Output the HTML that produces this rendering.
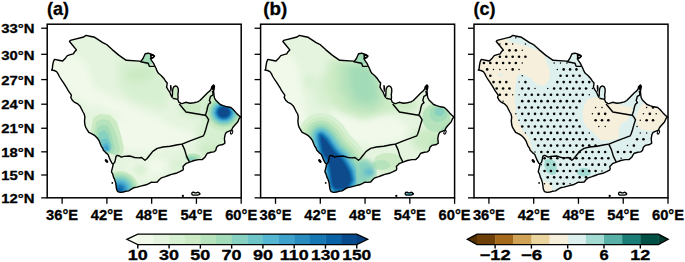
<!DOCTYPE html><html><head><meta charset="utf-8"><style>html,body{margin:0;padding:0;background:#fff;}svg{display:block;} text{font-family:"Liberation Sans",sans-serif;font-weight:bold;fill:#000;stroke:#000;stroke-width:0.3px;}</style></head><body>
<svg width="685" height="262" viewBox="0 0 685 262">
<defs>
<clipPath id="land"><path d="M54.5,59.4 L58.7,60.2 L62.6,61.0 L65.6,57.9 L67.4,55.6 L70.4,54.7 L73.3,53.9 L74.6,51.8 L76.4,49.9 L73.0,45.7 L69.5,41.5 L70.3,40.4 L83.7,37.0 L86.0,35.4 L89.8,36.2 L94.7,37.3 L100.5,41.2 L102.3,42.4 L105.8,44.2 L106.9,44.7 L112.2,49.6 L119.1,55.4 L126.3,60.3 L139.7,61.1 L140.6,61.6 L142.9,58.7 L145.2,53.7 L148.2,53.2 L152.1,54.5 L154.4,56.0 L152.8,57.5 L150.5,58.7 L151.7,60.6 L153.6,63.3 L154.5,65.4 L156.1,68.5 L156.8,70.4 L158.0,72.7 L159.1,73.8 L161.4,75.7 L164.1,78.8 L165.3,80.7 L167.2,83.0 L166.9,85.6 L166.6,87.2 L168.0,89.6 L169.7,92.1 L170.9,95.0 L172.0,97.3 L172.4,95.0 L172.5,92.1 L172.8,89.0 L173.8,86.8 L175.5,85.9 L177.2,86.6 L178.2,88.5 L178.4,91.2 L177.9,94.6 L178.1,97.5 L177.8,99.6 L178.9,102.2 L181.0,103.4 L182.0,103.7 L185.7,102.3 L190.2,103.2 L193.9,102.8 L197.6,101.9 L199.9,100.5 L201.7,98.7 L204.9,95.4 L207.6,92.7 L209.9,90.9 L211.3,89.0 L211.8,86.7 L213.6,84.9 L214.5,86.3 L214.1,88.6 L213.6,91.3 L214.1,95.9 L214.5,98.0 L215.6,99.9 L217.9,102.2 L220.2,104.5 L223.2,105.6 L227.1,106.8 L230.9,107.5 L233.2,109.5 L236.2,112.9 L238.5,115.2 L240.8,117.1 L239.3,118.3 L237.7,122.1 L234.7,125.2 L232.8,127.5 L231.6,130.1 L228.6,131.3 L226.3,132.4 L225.2,134.3 L224.4,138.6 L224.9,143.2 L223.0,144.5 L218.5,145.4 L216.6,147.3 L215.7,150.5 L213.9,151.9 L211.1,152.3 L207.5,153.2 L206.1,155.1 L204.9,157.3 L202.2,159.6 L198.5,159.6 L194.0,160.5 L190.3,161.9 L185.7,163.7 L183.0,166.5 L183.4,168.8 L182.8,170.2 L179.8,171.7 L176.0,173.3 L171.4,174.4 L168.3,175.5 L165.3,176.7 L161.5,177.8 L159.2,179.7 L157.3,182.0 L153.8,182.4 L151.6,182.1 L149.3,183.3 L146.2,184.8 L141.6,185.9 L137.1,187.1 L133.6,187.8 L131.0,189.4 L128.7,190.9 L125.6,191.3 L123.3,192.0 L120.3,192.4 L117.6,191.6 L116.5,189.0 L116.1,185.9 L115.7,182.9 L114.5,179.1 L113.7,177.7 L112.6,173.9 L111.5,172.0 L111.8,170.1 L112.6,167.1 L113.2,164.2 L111.8,162.9 L110.3,160.2 L109.1,157.2 L108.0,154.5 L105.7,152.6 L103.4,150.3 L102.6,148.0 L101.4,146.4 L100.3,143.7 L99.1,140.7 L97.2,138.0 L94.9,135.7 L91.9,133.8 L88.8,132.3 L87.3,130.0 L85.7,127.4 L84.9,124.7 L84.5,120.9 L84.9,117.1 L84.2,114.0 L83.0,112.0 L81.5,109.0 L79.9,105.9 L77.3,103.6 L74.2,102.1 L72.3,100.2 L70.8,97.5 L71.2,96.0 L71.4,95.2 L69.8,92.9 L67.9,90.2 L67.2,88.7 L65.3,85.6 L63.4,82.6 L61.5,79.9 L60.3,78.0 L59.1,76.0 L58.0,73.6 L56.5,71.6 L54.2,70.5 L51.5,70.1 L52.3,69.0 L52.6,65.9 L53.4,61.7 Z"/></clipPath>
<filter id="bl" x="-20%" y="-20%" width="140%" height="140%"><feGaussianBlur stdDeviation="4"/></filter>
<filter id="bl2" x="-20%" y="-20%" width="140%" height="140%"><feGaussianBlur stdDeviation="2"/></filter>
<filter id="bl3" x="-20%" y="-20%" width="140%" height="140%"><feGaussianBlur stdDeviation="3"/></filter>
<filter id="bl1" x="-20%" y="-20%" width="140%" height="140%"><feGaussianBlur stdDeviation="0.7"/></filter>
</defs>
<g transform="translate(0.00,0)">
<g clip-path="url(#land)"><rect x="40" y="30" width="210" height="170" fill="#e4f4de"/><g filter="url(#bl3)"><path d="M45,60 L70,52 L85,62 L92,80 L98,100 L95,110 L80,100 L60,85 Z" fill="#f1f9ea"/><path d="M75,78 L100,90 L130,105 L160,118 L175,128 L165,134 L140,125 L110,112 L85,98 L72,88 Z" fill="#f1f9ea"/><path d="M115,118 L150,122 L180,128 L200,135 L185,145 L160,150 L140,152 L120,150 L112,135 Z" fill="#f1f9ea"/><path d="M128,162 L160,158 L172,165 L160,175 L140,180 L128,176 Z" fill="#f1f9ea"/><path d="M118,60 L150,60 L165,80 L168,100 L150,106 L130,100 L118,85 Z" fill="#d8f0d2"/><ellipse cx="138" cy="75" rx="13" ry="8" fill="#ccebc5"/><ellipse cx="160" cy="95" rx="8" ry="14" fill="#d8f0d2"/><ellipse cx="150" cy="72" rx="6" ry="6" fill="#ccebc5"/><ellipse cx="196" cy="108" rx="16" ry="8" fill="#ccebc5"/><ellipse cx="212" cy="135" rx="16" ry="16" fill="#d8f0d2"/><ellipse cx="212" cy="150" rx="14" ry="6" fill="#ccebc5"/><ellipse cx="222" cy="128" rx="8" ry="8" fill="#ccebc5"/><ellipse cx="178" cy="165" rx="9" ry="5" fill="#d8f0d2"/><ellipse cx="140" cy="170" rx="8" ry="6" fill="#d8f0d2"/></g><g filter="url(#bl1)"><ellipse cx="148" cy="59" rx="6" ry="6" fill="#a2dbb7"/><ellipse cx="175" cy="92" rx="3" ry="6" fill="#ccebc5"/><ellipse cx="193" cy="157.5" rx="8" ry="4" fill="#b7e3bc"/><ellipse cx="192" cy="158.5" rx="5.5" ry="2.8" fill="#a2dbb7"/><ellipse cx="191" cy="159" rx="3" ry="1.8" fill="#88d1c0"/><path d="M93.0,118.0 L100.0,114.0 L110.0,115.0 L117.0,122.0 L121.0,135.0 L124.0,148.0 L122.0,156.0 L95.0,152.0 L91.0,130.0 Z" fill="#ccebc5"/><path d="M96.0,122.0 L102.0,119.0 L109.0,120.0 L114.0,128.0 L118.0,140.0 L120.0,150.0 L116.0,155.0 L97.0,150.0 L94.0,135.0 Z" fill="#b7e3bc"/><path d="M97.0,128.0 L103.0,124.5 L108.0,126.0 L111.0,133.0 L113.0,141.0 L115.0,148.0 L113.0,153.0 L100.0,153.0 L96.0,140.0 Z" fill="#a2dbb7"/><path d="M99.0,133.0 L104.0,130.0 L108.0,134.0 L110.0,140.0 L112.0,146.0 L110.0,152.0 L101.0,152.0 L98.0,140.0 Z" fill="#88d1c0"/><path d="M101.0,140.0 L106.0,138.0 L110.0,143.0 L111.0,150.0 L103.0,152.0 Z" fill="#6ec5c8"/><path d="M103.0,144.0 L107.0,143.0 L109.5,147.0 L109.0,151.0 L104.0,151.0 Z" fill="#54b6d1"/><path d="M104.5,146.0 L107.0,145.5 L108.5,148.5 L107.5,150.5 L105.0,150.0 Z" fill="#3fa2ca"/><ellipse cx="119.5" cy="189.5" rx="19.5" ry="18.5" fill="#ccebc5"/><ellipse cx="119.5" cy="189.5" rx="17.55" ry="16.65" fill="#b7e3bc"/><ellipse cx="119.5" cy="189.5" rx="15.6" ry="14.8" fill="#a2dbb7"/><ellipse cx="119.5" cy="189.5" rx="13.65" ry="12.95" fill="#88d1c0"/><ellipse cx="119.5" cy="189.5" rx="11.7" ry="11.1" fill="#6ec5c8"/><ellipse cx="119.5" cy="189.5" rx="9.75" ry="9.25" fill="#54b6d1"/><ellipse cx="119.5" cy="189.5" rx="7.8" ry="7.4" fill="#3fa2ca"/><ellipse cx="119.5" cy="189.5" rx="5.85" ry="5.55" fill="#2a8bbe"/><ellipse cx="119.5" cy="189.5" rx="3.9" ry="3.7" fill="#1677b3"/><ellipse cx="119.5" cy="189.5" rx="1.95" ry="1.85" fill="#0862a5"/><ellipse cx="223.8" cy="112.3" rx="24" ry="24" fill="#d8f0d2"/><ellipse cx="223.8" cy="112.3" rx="19.5" ry="19" fill="#ccebc5"/><ellipse cx="223.8" cy="112.3" rx="16" ry="15" fill="#b7e3bc"/><ellipse cx="223.8" cy="112.3" rx="14.5" ry="13.5" fill="#a2dbb7"/><ellipse cx="223.8" cy="112.3" rx="13" ry="12" fill="#88d1c0"/><ellipse cx="223.8" cy="112.3" rx="11.5" ry="10.5" fill="#6ec5c8"/><ellipse cx="223.8" cy="112.3" rx="10.3" ry="9.3" fill="#54b6d1"/><ellipse cx="223.8" cy="112.3" rx="9.2" ry="8.3" fill="#3fa2ca"/><ellipse cx="223.8" cy="112.3" rx="8.2" ry="7.4" fill="#2a8bbe"/><ellipse cx="223.8" cy="112.3" rx="7.3" ry="6.6" fill="#1677b3"/><ellipse cx="223.8" cy="112.3" rx="6.5" ry="5.8" fill="#0862a5"/><ellipse cx="223.8" cy="112.3" rx="5.5" ry="4.8" fill="#084b8d"/></g></g>
<path d="M54.5,59.4 L58.7,60.2 L62.6,61.0 L65.6,57.9 L67.4,55.6 L70.4,54.7 L73.3,53.9 L74.6,51.8 L76.4,49.9 L73.0,45.7 L69.5,41.5 L70.3,40.4 L83.7,37.0 L86.0,35.4 L89.8,36.2 L94.7,37.3 L100.5,41.2 L102.3,42.4 L105.8,44.2 L106.9,44.7 L112.2,49.6 L119.1,55.4 L126.3,60.3 L139.7,61.1 L140.6,61.6 L142.9,58.7 L145.2,53.7 L148.2,53.2 L152.1,54.5 L154.4,56.0 L152.8,57.5 L150.5,58.7 L151.7,60.6 L153.6,63.3 L154.5,65.4 L156.1,68.5 L156.8,70.4 L158.0,72.7 L159.1,73.8 L161.4,75.7 L164.1,78.8 L165.3,80.7 L167.2,83.0 L166.9,85.6 L166.6,87.2 L168.0,89.6 L169.7,92.1 L170.9,95.0 L172.0,97.3 L172.4,95.0 L172.5,92.1 L172.8,89.0 L173.8,86.8 L175.5,85.9 L177.2,86.6 L178.2,88.5 L178.4,91.2 L177.9,94.6 L178.1,97.5 L177.8,99.6 L178.9,102.2 L181.0,103.4 L182.0,103.7 L185.7,102.3 L190.2,103.2 L193.9,102.8 L197.6,101.9 L199.9,100.5 L201.7,98.7 L204.9,95.4 L207.6,92.7 L209.9,90.9 L211.3,89.0 L211.8,86.7 L213.6,84.9 L214.5,86.3 L214.1,88.6 L213.6,91.3 L214.1,95.9 L214.5,98.0 L215.6,99.9 L217.9,102.2 L220.2,104.5 L223.2,105.6 L227.1,106.8 L230.9,107.5 L233.2,109.5 L236.2,112.9 L238.5,115.2 L240.8,117.1 L239.3,118.3 L237.7,122.1 L234.7,125.2 L232.8,127.5 L231.6,130.1 L228.6,131.3 L226.3,132.4 L225.2,134.3 L224.4,138.6 L224.9,143.2 L223.0,144.5 L218.5,145.4 L216.6,147.3 L215.7,150.5 L213.9,151.9 L211.1,152.3 L207.5,153.2 L206.1,155.1 L204.9,157.3 L202.2,159.6 L198.5,159.6 L194.0,160.5 L190.3,161.9 L185.7,163.7 L183.0,166.5 L183.4,168.8 L182.8,170.2 L179.8,171.7 L176.0,173.3 L171.4,174.4 L168.3,175.5 L165.3,176.7 L161.5,177.8 L159.2,179.7 L157.3,182.0 L153.8,182.4 L151.6,182.1 L149.3,183.3 L146.2,184.8 L141.6,185.9 L137.1,187.1 L133.6,187.8 L131.0,189.4 L128.7,190.9 L125.6,191.3 L123.3,192.0 L120.3,192.4 L117.6,191.6 L116.5,189.0 L116.1,185.9 L115.7,182.9 L114.5,179.1 L113.7,177.7 L112.6,173.9 L111.5,172.0 L111.8,170.1 L112.6,167.1 L113.2,164.2 L111.8,162.9 L110.3,160.2 L109.1,157.2 L108.0,154.5 L105.7,152.6 L103.4,150.3 L102.6,148.0 L101.4,146.4 L100.3,143.7 L99.1,140.7 L97.2,138.0 L94.9,135.7 L91.9,133.8 L88.8,132.3 L87.3,130.0 L85.7,127.4 L84.9,124.7 L84.5,120.9 L84.9,117.1 L84.2,114.0 L83.0,112.0 L81.5,109.0 L79.9,105.9 L77.3,103.6 L74.2,102.1 L72.3,100.2 L70.8,97.5 L71.2,96.0 L71.4,95.2 L69.8,92.9 L67.9,90.2 L67.2,88.7 L65.3,85.6 L63.4,82.6 L61.5,79.9 L60.3,78.0 L59.1,76.0 L58.0,73.6 L56.5,71.6 L54.2,70.5 L51.5,70.1 L52.3,69.0 L52.6,65.9 L53.4,61.7 Z" fill="none" stroke="#000" stroke-width="1.4" stroke-linejoin="round"/>
<path d="M140.6,61.7 L148.2,63.3 L149.3,66.3 L154.3,66.4" fill="none" stroke="#000" stroke-width="1.4" stroke-linejoin="round"/>
<path d="M179.3,104.0 L186.0,112.0 L205.0,115.2" fill="none" stroke="#000" stroke-width="1.4" stroke-linejoin="round"/>
<path d="M212.3,90.8 L213.0,93.0 L212.9,95.2 L210.5,96.4 L209.4,100.5 L210.6,102.6 L208.6,104.3 L207.5,107.5 L206.8,111.0 L205.9,113.8 L205.0,115.4" fill="none" stroke="#000" stroke-width="1.4" stroke-linejoin="round"/>
<path d="M205.0,115.4 L206.5,116.2 L208.7,119.8 L207.2,124.4 L205.7,129.7 L204.3,134.0 L203.4,135.8 L190.0,140.8 L182.0,144.1" fill="none" stroke="#000" stroke-width="1.4" stroke-linejoin="round"/>
<path d="M182.0,144.1 L184.6,149.6 L186.6,156.4 L189.4,161.9" fill="none" stroke="#000" stroke-width="1.4" stroke-linejoin="round"/>
<path d="M182.0,144.1 L177.6,144.8 L170.3,146.2 L163.0,147.0 L157.2,148.4 L152.8,151.4 L149.9,155.0 L146.9,158.7 L145.0,160.2 L143.1,158.7 L141.6,157.5 L138.5,157.9 L134.7,157.5 L132.4,156.8 L129.4,156.0 L124.0,156.4 L121.3,157.2 L119.4,156.0 L117.5,155.3 L116.0,156.4 L115.6,158.7 L114.8,162.1 L113.2,164.2" fill="none" stroke="#000" stroke-width="1.4" stroke-linejoin="round"/>
<path d="M172.6,98.2 L177.8,99.4" fill="none" stroke="#000" stroke-width="1.4" stroke-linejoin="round"/>
<path d="M169.9,85.0 L171.3,85.3 L171.8,88.0 L171.5,91.5 L170.6,92.0 L170.0,89.0 Z" fill="#000"/>
<path d="M211.6,86.8 L213.4,84.5 L214.9,86.2 L214.4,88.8 L213.4,90.6 L212.0,89.6 Z" fill="#000"/>
<path d="M150.9,54.8 L153.0,55.1 L154.2,56.2 L153.2,57.5 L151.6,58.1 L150.9,57.0 Z" fill="#fff" stroke="#000" stroke-width="1.7"/>
<ellipse cx="106.5" cy="161" rx="2.2" ry="1.3" transform="rotate(45 106.5 161)" fill="#000"/>
<circle cx="112.3" cy="182.9" r="0.9" fill="#000"/>
<circle cx="182.9" cy="195.9" r="1.15" fill="#000"/>
<ellipse cx="231.6" cy="132.3" rx="1.0" ry="1.9" transform="rotate(25 231.6 132.3)" fill="#fff" stroke="#000" stroke-width="1.1"/>
<path d="M191.7,193.5 L192.3,192.4 L193.6,192.1 L195.0,192.9 L196.3,192.9 L197.6,192.2 L199.0,192.6 L199.8,193.6 L199.2,194.7 L197.5,195.1 L195.5,195.2 L193.1,195.1 L192.0,194.6 Z" fill="#e4f4de" stroke="#000" stroke-width="1.25" stroke-linejoin="round"/>
<circle cx="199.6" cy="193.9" r="0.9" fill="#000"/>
</g>
<g transform="translate(213.40,0)">
<g clip-path="url(#land)"><rect x="40" y="30" width="210" height="170" fill="#e4f4de"/><g filter="url(#bl3)"><path d="M45,55 L70,50 L82,60 L88,80 L92,110 L96,125 L88,128 L70,110 L55,85 Z" fill="#f1f9ea"/><path d="M118,110 L140,108 L175,115 L195,125 L190,140 L160,146 L140,142 L125,132 Z" fill="#f1f9ea"/><ellipse cx="95" cy="82" rx="6" ry="7" fill="#d8f0d2"/><ellipse cx="115" cy="90" rx="14" ry="18" fill="#d8f0d2"/><path d="M115,60 L150,60 L165,72 L175,95 L180,112 L150,120 L125,112 L112,90 Z" fill="#ccebc5"/><path d="M125,63 L152,62 L165,78 L172,100 L160,112 L138,108 L125,90 Z" fill="#b7e3bc"/><path d="M136,66 L154,66 L162,80 L164,98 L155,104 L142,100 L136,85 Z" fill="#a2dbb7"/><ellipse cx="190" cy="105" rx="14" ry="7" fill="#ccebc5"/><ellipse cx="222" cy="115" rx="12" ry="10" fill="#b7e3bc"/><ellipse cx="215" cy="140" rx="16" ry="12" fill="#ccebc5"/><ellipse cx="225" cy="145" rx="8" ry="8" fill="#b7e3bc"/><ellipse cx="175" cy="165" rx="12" ry="7" fill="#ccebc5"/></g><g filter="url(#bl1)"><ellipse cx="148" cy="59" rx="6" ry="6" fill="#a2dbb7"/><ellipse cx="223" cy="118" rx="14" ry="14" fill="#b7e3bc"/><ellipse cx="225" cy="114" rx="9" ry="8" fill="#a2dbb7"/><ellipse cx="226" cy="112" rx="5" ry="4" fill="#88d1c0"/><ellipse cx="231" cy="131" rx="3" ry="4" fill="#a2dbb7"/><ellipse cx="175" cy="160" rx="14" ry="7" fill="#ccebc5"/><ellipse cx="168" cy="165" rx="9" ry="5" fill="#b7e3bc"/><path d="M107.6,136.0 L109.8,137.8 L112.2,140.0 L116.0,145.5 L120.0,151.2 L123.5,154.8 L127.6,158.8 L131.6,165.0 L135.6,172.0 L137.3,180.0 L134.6,185.5 L131.6,188.0 L122.6,188.5 L119.6,185.0 L118.6,180.0 L117.6,172.0 L116.6,165.0 L114.6,159.5 L111.5,155.0 L109.5,150.9 L108.5,145.0 L107.6,139.5 Z" fill="#d8f0d2" stroke="#d8f0d2" stroke-width="46.00" stroke-linejoin="round"/><path d="M107.6,136.0 L109.8,137.8 L112.2,140.0 L116.0,145.5 L120.0,151.2 L123.5,154.8 L127.6,158.8 L131.6,165.0 L135.6,172.0 L137.3,180.0 L134.6,185.5 L131.6,188.0 L122.6,188.5 L119.6,185.0 L118.6,180.0 L117.6,172.0 L116.6,165.0 L114.6,159.5 L111.5,155.0 L109.5,150.9 L108.5,145.0 L107.6,139.5 Z" fill="#ccebc5" stroke="#ccebc5" stroke-width="38.00" stroke-linejoin="round"/><path d="M107.6,136.0 L109.8,137.8 L112.2,140.0 L116.0,145.5 L120.0,151.2 L123.5,154.8 L127.6,158.8 L131.6,165.0 L135.6,172.0 L137.3,180.0 L134.6,185.5 L131.6,188.0 L122.6,188.5 L119.6,185.0 L118.6,180.0 L117.6,172.0 L116.6,165.0 L114.6,159.5 L111.5,155.0 L109.5,150.9 L108.5,145.0 L107.6,139.5 Z" fill="#b7e3bc" stroke="#b7e3bc" stroke-width="31.00" stroke-linejoin="round"/><path d="M107.6,136.0 L109.8,137.8 L112.2,140.0 L116.0,145.5 L120.0,151.2 L123.5,154.8 L127.6,158.8 L131.6,165.0 L135.6,172.0 L137.3,180.0 L134.6,185.5 L131.6,188.0 L122.6,188.5 L119.6,185.0 L118.6,180.0 L117.6,172.0 L116.6,165.0 L114.6,159.5 L111.5,155.0 L109.5,150.9 L108.5,145.0 L107.6,139.5 Z" fill="#a2dbb7" stroke="#a2dbb7" stroke-width="25.00" stroke-linejoin="round"/><path d="M107.6,136.0 L109.8,137.8 L112.2,140.0 L116.0,145.5 L120.0,151.2 L123.5,154.8 L127.6,158.8 L131.6,165.0 L135.6,172.0 L137.3,180.0 L134.6,185.5 L131.6,188.0 L122.6,188.5 L119.6,185.0 L118.6,180.0 L117.6,172.0 L116.6,165.0 L114.6,159.5 L111.5,155.0 L109.5,150.9 L108.5,145.0 L107.6,139.5 Z" fill="#88d1c0" stroke="#88d1c0" stroke-width="20.00" stroke-linejoin="round"/><path d="M107.6,136.0 L109.8,137.8 L112.2,140.0 L116.0,145.5 L120.0,151.2 L123.5,154.8 L127.6,158.8 L131.6,165.0 L135.6,172.0 L137.3,180.0 L134.6,185.5 L131.6,188.0 L122.6,188.5 L119.6,185.0 L118.6,180.0 L117.6,172.0 L116.6,165.0 L114.6,159.5 L111.5,155.0 L109.5,150.9 L108.5,145.0 L107.6,139.5 Z" fill="#6ec5c8" stroke="#6ec5c8" stroke-width="16.00" stroke-linejoin="round"/><path d="M107.6,136.0 L109.8,137.8 L112.2,140.0 L116.0,145.5 L120.0,151.2 L123.5,154.8 L127.6,158.8 L131.6,165.0 L135.6,172.0 L137.3,180.0 L134.6,185.5 L131.6,188.0 L122.6,188.5 L119.6,185.0 L118.6,180.0 L117.6,172.0 L116.6,165.0 L114.6,159.5 L111.5,155.0 L109.5,150.9 L108.5,145.0 L107.6,139.5 Z" fill="#54b6d1" stroke="#54b6d1" stroke-width="12.40" stroke-linejoin="round"/><path d="M107.6,136.0 L109.8,137.8 L112.2,140.0 L116.0,145.5 L120.0,151.2 L123.5,154.8 L127.6,158.8 L131.6,165.0 L135.6,172.0 L137.3,180.0 L134.6,185.5 L131.6,188.0 L122.6,188.5 L119.6,185.0 L118.6,180.0 L117.6,172.0 L116.6,165.0 L114.6,159.5 L111.5,155.0 L109.5,150.9 L108.5,145.0 L107.6,139.5 Z" fill="#3fa2ca" stroke="#3fa2ca" stroke-width="9.20" stroke-linejoin="round"/><path d="M107.6,136.0 L109.8,137.8 L112.2,140.0 L116.0,145.5 L120.0,151.2 L123.5,154.8 L127.6,158.8 L131.6,165.0 L135.6,172.0 L137.3,180.0 L134.6,185.5 L131.6,188.0 L122.6,188.5 L119.6,185.0 L118.6,180.0 L117.6,172.0 L116.6,165.0 L114.6,159.5 L111.5,155.0 L109.5,150.9 L108.5,145.0 L107.6,139.5 Z" fill="#2a8bbe" stroke="#2a8bbe" stroke-width="7.00" stroke-linejoin="round"/><path d="M107.6,136.0 L109.8,137.8 L112.2,140.0 L116.0,145.5 L120.0,151.2 L123.5,154.8 L127.6,158.8 L131.6,165.0 L135.6,172.0 L137.3,180.0 L134.6,185.5 L131.6,188.0 L122.6,188.5 L119.6,185.0 L118.6,180.0 L117.6,172.0 L116.6,165.0 L114.6,159.5 L111.5,155.0 L109.5,150.9 L108.5,145.0 L107.6,139.5 Z" fill="#1677b3" stroke="#1677b3" stroke-width="4.80" stroke-linejoin="round"/><path d="M107.6,136.0 L109.8,137.8 L112.2,140.0 L116.0,145.5 L120.0,151.2 L123.5,154.8 L127.6,158.8 L131.6,165.0 L135.6,172.0 L137.3,180.0 L134.6,185.5 L131.6,188.0 L122.6,188.5 L119.6,185.0 L118.6,180.0 L117.6,172.0 L116.6,165.0 L114.6,159.5 L111.5,155.0 L109.5,150.9 L108.5,145.0 L107.6,139.5 Z" fill="#0862a5" stroke="#0862a5" stroke-width="2.40" stroke-linejoin="round"/><path d="M107.6,136.0 L109.8,137.8 L112.2,140.0 L116.0,145.5 L120.0,151.2 L123.5,154.8 L127.6,158.8 L131.6,165.0 L135.6,172.0 L137.3,180.0 L134.6,185.5 L131.6,188.0 L122.6,188.5 L119.6,185.0 L118.6,180.0 L117.6,172.0 L116.6,165.0 L114.6,159.5 L111.5,155.0 L109.5,150.9 L108.5,145.0 L107.6,139.5 Z" fill="#084b8d"/></g><g filter="url(#bl2)"><path d="M146.0,163.5 L152.0,162.5 L158.0,166.0 L160.0,174.0 L152.0,180.0 L146.0,181.5 Z" fill="#a2dbb7" stroke="#a2dbb7" stroke-width="7.20" stroke-linejoin="round"/><path d="M146.0,163.5 L152.0,162.5 L158.0,166.0 L160.0,174.0 L152.0,180.0 L146.0,181.5 Z" fill="#88d1c0" stroke="#88d1c0" stroke-width="3.60" stroke-linejoin="round"/><path d="M146.0,163.5 L152.0,162.5 L158.0,166.0 L160.0,174.0 L152.0,180.0 L146.0,181.5 Z" fill="#88d1c0"/><ellipse cx="155.6" cy="172" rx="5" ry="3" fill="#54b6d1"/></g></g>
<path d="M54.5,59.4 L58.7,60.2 L62.6,61.0 L65.6,57.9 L67.4,55.6 L70.4,54.7 L73.3,53.9 L74.6,51.8 L76.4,49.9 L73.0,45.7 L69.5,41.5 L70.3,40.4 L83.7,37.0 L86.0,35.4 L89.8,36.2 L94.7,37.3 L100.5,41.2 L102.3,42.4 L105.8,44.2 L106.9,44.7 L112.2,49.6 L119.1,55.4 L126.3,60.3 L139.7,61.1 L140.6,61.6 L142.9,58.7 L145.2,53.7 L148.2,53.2 L152.1,54.5 L154.4,56.0 L152.8,57.5 L150.5,58.7 L151.7,60.6 L153.6,63.3 L154.5,65.4 L156.1,68.5 L156.8,70.4 L158.0,72.7 L159.1,73.8 L161.4,75.7 L164.1,78.8 L165.3,80.7 L167.2,83.0 L166.9,85.6 L166.6,87.2 L168.0,89.6 L169.7,92.1 L170.9,95.0 L172.0,97.3 L172.4,95.0 L172.5,92.1 L172.8,89.0 L173.8,86.8 L175.5,85.9 L177.2,86.6 L178.2,88.5 L178.4,91.2 L177.9,94.6 L178.1,97.5 L177.8,99.6 L178.9,102.2 L181.0,103.4 L182.0,103.7 L185.7,102.3 L190.2,103.2 L193.9,102.8 L197.6,101.9 L199.9,100.5 L201.7,98.7 L204.9,95.4 L207.6,92.7 L209.9,90.9 L211.3,89.0 L211.8,86.7 L213.6,84.9 L214.5,86.3 L214.1,88.6 L213.6,91.3 L214.1,95.9 L214.5,98.0 L215.6,99.9 L217.9,102.2 L220.2,104.5 L223.2,105.6 L227.1,106.8 L230.9,107.5 L233.2,109.5 L236.2,112.9 L238.5,115.2 L240.8,117.1 L239.3,118.3 L237.7,122.1 L234.7,125.2 L232.8,127.5 L231.6,130.1 L228.6,131.3 L226.3,132.4 L225.2,134.3 L224.4,138.6 L224.9,143.2 L223.0,144.5 L218.5,145.4 L216.6,147.3 L215.7,150.5 L213.9,151.9 L211.1,152.3 L207.5,153.2 L206.1,155.1 L204.9,157.3 L202.2,159.6 L198.5,159.6 L194.0,160.5 L190.3,161.9 L185.7,163.7 L183.0,166.5 L183.4,168.8 L182.8,170.2 L179.8,171.7 L176.0,173.3 L171.4,174.4 L168.3,175.5 L165.3,176.7 L161.5,177.8 L159.2,179.7 L157.3,182.0 L153.8,182.4 L151.6,182.1 L149.3,183.3 L146.2,184.8 L141.6,185.9 L137.1,187.1 L133.6,187.8 L131.0,189.4 L128.7,190.9 L125.6,191.3 L123.3,192.0 L120.3,192.4 L117.6,191.6 L116.5,189.0 L116.1,185.9 L115.7,182.9 L114.5,179.1 L113.7,177.7 L112.6,173.9 L111.5,172.0 L111.8,170.1 L112.6,167.1 L113.2,164.2 L111.8,162.9 L110.3,160.2 L109.1,157.2 L108.0,154.5 L105.7,152.6 L103.4,150.3 L102.6,148.0 L101.4,146.4 L100.3,143.7 L99.1,140.7 L97.2,138.0 L94.9,135.7 L91.9,133.8 L88.8,132.3 L87.3,130.0 L85.7,127.4 L84.9,124.7 L84.5,120.9 L84.9,117.1 L84.2,114.0 L83.0,112.0 L81.5,109.0 L79.9,105.9 L77.3,103.6 L74.2,102.1 L72.3,100.2 L70.8,97.5 L71.2,96.0 L71.4,95.2 L69.8,92.9 L67.9,90.2 L67.2,88.7 L65.3,85.6 L63.4,82.6 L61.5,79.9 L60.3,78.0 L59.1,76.0 L58.0,73.6 L56.5,71.6 L54.2,70.5 L51.5,70.1 L52.3,69.0 L52.6,65.9 L53.4,61.7 Z" fill="none" stroke="#000" stroke-width="1.4" stroke-linejoin="round"/>
<path d="M140.6,61.7 L148.2,63.3 L149.3,66.3 L154.3,66.4" fill="none" stroke="#000" stroke-width="1.4" stroke-linejoin="round"/>
<path d="M179.3,104.0 L186.0,112.0 L205.0,115.2" fill="none" stroke="#000" stroke-width="1.4" stroke-linejoin="round"/>
<path d="M212.3,90.8 L213.0,93.0 L212.9,95.2 L210.5,96.4 L209.4,100.5 L210.6,102.6 L208.6,104.3 L207.5,107.5 L206.8,111.0 L205.9,113.8 L205.0,115.4" fill="none" stroke="#000" stroke-width="1.4" stroke-linejoin="round"/>
<path d="M205.0,115.4 L206.5,116.2 L208.7,119.8 L207.2,124.4 L205.7,129.7 L204.3,134.0 L203.4,135.8 L190.0,140.8 L182.0,144.1" fill="none" stroke="#000" stroke-width="1.4" stroke-linejoin="round"/>
<path d="M182.0,144.1 L184.6,149.6 L186.6,156.4 L189.4,161.9" fill="none" stroke="#000" stroke-width="1.4" stroke-linejoin="round"/>
<path d="M182.0,144.1 L177.6,144.8 L170.3,146.2 L163.0,147.0 L157.2,148.4 L152.8,151.4 L149.9,155.0 L146.9,158.7 L145.0,160.2 L143.1,158.7 L141.6,157.5 L138.5,157.9 L134.7,157.5 L132.4,156.8 L129.4,156.0 L124.0,156.4 L121.3,157.2 L119.4,156.0 L117.5,155.3 L116.0,156.4 L115.6,158.7 L114.8,162.1 L113.2,164.2" fill="none" stroke="#000" stroke-width="1.4" stroke-linejoin="round"/>
<path d="M172.6,98.2 L177.8,99.4" fill="none" stroke="#000" stroke-width="1.4" stroke-linejoin="round"/>
<path d="M169.9,85.0 L171.3,85.3 L171.8,88.0 L171.5,91.5 L170.6,92.0 L170.0,89.0 Z" fill="#000"/>
<path d="M211.6,86.8 L213.4,84.5 L214.9,86.2 L214.4,88.8 L213.4,90.6 L212.0,89.6 Z" fill="#000"/>
<path d="M150.9,54.8 L153.0,55.1 L154.2,56.2 L153.2,57.5 L151.6,58.1 L150.9,57.0 Z" fill="#fff" stroke="#000" stroke-width="1.7"/>
<ellipse cx="106.5" cy="161" rx="2.2" ry="1.3" transform="rotate(45 106.5 161)" fill="#000"/>
<circle cx="112.3" cy="182.9" r="0.9" fill="#000"/>
<circle cx="182.9" cy="195.9" r="1.15" fill="#000"/>
<ellipse cx="231.6" cy="132.3" rx="1.0" ry="1.9" transform="rotate(25 231.6 132.3)" fill="#fff" stroke="#000" stroke-width="1.1"/>
<path d="M191.7,193.5 L192.3,192.4 L193.6,192.1 L195.0,192.9 L196.3,192.9 L197.6,192.2 L199.0,192.6 L199.8,193.6 L199.2,194.7 L197.5,195.1 L195.5,195.2 L193.1,195.1 L192.0,194.6 Z" fill="#54b6d1" stroke="#000" stroke-width="1.25" stroke-linejoin="round"/>
<circle cx="199.6" cy="193.9" r="0.9" fill="#000"/>
</g>
<g transform="translate(426.80,0)">
<g clip-path="url(#land)"><rect x="40" y="30" width="210" height="170" fill="#def0ed"/><path d="M40.0,30.0 L80.0,30.0 L82.2,41.5 L95.0,45.0 L109.7,49.5 L115.0,53.0 L118.2,57.0 L120.2,63.0 L122.5,69.0 L123.4,74.7 L122.2,80.0 L119.5,83.5 L117.1,85.2 L113.0,85.5 L109.7,84.1 L106.0,80.5 L103.4,77.8 L97.1,74.7 L92.9,73.6 L90.8,75.7 L89.2,82.0 L88.2,88.0 L88.0,100.0 L89.0,110.0 L90.5,119.7 L95.5,129.7 L102.9,139.6 L105.5,150.0 L107.0,155.0 L40.0,160.0 Z" fill="#f5efdc"/><path d="M155.8,111.9 L158.0,104.0 L161.2,98.9 L169.9,96.7 L178.0,100.0 L190.0,104.0 L204.7,107.6 L205.8,109.7 L203.0,115.0 L200.4,120.6 L195.0,123.0 L192.5,128.0 L191.7,138.0 L183.0,140.5 L174.2,140.2 L165.6,131.5 L160.0,127.0 L156.9,122.8 Z" fill="#f5efdc"/><path d="M216.0,103.5 L222.0,103.0 L237.2,104.0 L242.0,110.0 L242.0,125.0 L237.2,129.0 L225.0,131.0 L215.0,130.0 L210.0,125.0 L209.5,116.0 L211.5,110.0 Z" fill="#f5efdc"/><path d="M113.0,181.0 L120.0,182.0 L125.0,186.0 L126.0,195.0 L108.0,195.0 Z" fill="#f5efdc"/><g filter="url(#bl1)"><path d="M118,160 L124,158.5 L129,162 L130,168 L129,174 L125,175 L120,172 L117.5,166 Z" fill="#a3dbd3"/><ellipse cx="157.2" cy="172.3" rx="7" ry="4.3" fill="#a3dbd3"/><ellipse cx="74" cy="75" rx="1.8" ry="1.8" fill="#def0ed"/></g></g>
<g clip-path="url(#land)"><g fill="#000"><circle cx="89.05" cy="37.65" r="0.75"/><circle cx="73.10" cy="44.00" r="0.75"/><circle cx="79.48" cy="44.00" r="1.3"/><circle cx="85.86" cy="44.00" r="0.75"/><circle cx="98.62" cy="44.00" r="0.75"/><circle cx="76.29" cy="50.35" r="0.75"/><circle cx="82.67" cy="50.35" r="1.3"/><circle cx="89.05" cy="50.35" r="1.3"/><circle cx="95.43" cy="50.35" r="0.75"/><circle cx="73.10" cy="56.70" r="1.3"/><circle cx="79.48" cy="56.70" r="1.3"/><circle cx="85.86" cy="56.70" r="1.3"/><circle cx="92.24" cy="56.70" r="1.3"/><circle cx="98.62" cy="56.70" r="1.3"/><circle cx="57.15" cy="63.05" r="1.3"/><circle cx="63.53" cy="63.05" r="1.3"/><circle cx="69.91" cy="63.05" r="1.3"/><circle cx="76.29" cy="63.05" r="1.3"/><circle cx="82.67" cy="63.05" r="1.3"/><circle cx="89.05" cy="63.05" r="1.3"/><circle cx="95.43" cy="63.05" r="0.75"/><circle cx="127.33" cy="63.05" r="0.75"/><circle cx="133.71" cy="63.05" r="0.75"/><circle cx="140.09" cy="63.05" r="0.75"/><circle cx="60.34" cy="69.40" r="1.3"/><circle cx="66.72" cy="69.40" r="0.75"/><circle cx="73.10" cy="69.40" r="0.75"/><circle cx="79.48" cy="69.40" r="0.75"/><circle cx="85.86" cy="69.40" r="1.3"/><circle cx="92.24" cy="69.40" r="0.75"/><circle cx="130.52" cy="69.40" r="0.75"/><circle cx="136.90" cy="69.40" r="1.3"/><circle cx="143.28" cy="69.40" r="1.3"/><circle cx="149.66" cy="69.40" r="1.3"/><circle cx="63.53" cy="75.75" r="1.3"/><circle cx="95.43" cy="75.75" r="0.75"/><circle cx="133.71" cy="75.75" r="1.3"/><circle cx="140.09" cy="75.75" r="1.3"/><circle cx="146.47" cy="75.75" r="1.3"/><circle cx="152.85" cy="75.75" r="1.3"/><circle cx="66.72" cy="82.10" r="1.3"/><circle cx="73.10" cy="82.10" r="1.3"/><circle cx="79.48" cy="82.10" r="1.3"/><circle cx="92.24" cy="82.10" r="0.75"/><circle cx="98.62" cy="82.10" r="1.3"/><circle cx="130.52" cy="82.10" r="1.3"/><circle cx="136.90" cy="82.10" r="1.3"/><circle cx="143.28" cy="82.10" r="1.3"/><circle cx="149.66" cy="82.10" r="1.3"/><circle cx="156.04" cy="82.10" r="1.3"/><circle cx="162.42" cy="82.10" r="1.3"/><circle cx="69.91" cy="88.45" r="1.3"/><circle cx="76.29" cy="88.45" r="1.3"/><circle cx="82.67" cy="88.45" r="1.3"/><circle cx="95.43" cy="88.45" r="1.3"/><circle cx="101.81" cy="88.45" r="1.3"/><circle cx="108.19" cy="88.45" r="0.75"/><circle cx="120.95" cy="88.45" r="0.75"/><circle cx="127.33" cy="88.45" r="1.3"/><circle cx="133.71" cy="88.45" r="1.3"/><circle cx="140.09" cy="88.45" r="1.3"/><circle cx="146.47" cy="88.45" r="1.3"/><circle cx="152.85" cy="88.45" r="1.3"/><circle cx="159.23" cy="88.45" r="1.3"/><circle cx="165.61" cy="88.45" r="0.75"/><circle cx="73.10" cy="94.80" r="1.3"/><circle cx="79.48" cy="94.80" r="1.3"/><circle cx="85.86" cy="94.80" r="0.75"/><circle cx="92.24" cy="94.80" r="0.75"/><circle cx="98.62" cy="94.80" r="1.3"/><circle cx="105.00" cy="94.80" r="1.3"/><circle cx="111.38" cy="94.80" r="1.3"/><circle cx="117.76" cy="94.80" r="1.3"/><circle cx="124.14" cy="94.80" r="1.3"/><circle cx="130.52" cy="94.80" r="1.3"/><circle cx="136.90" cy="94.80" r="1.3"/><circle cx="143.28" cy="94.80" r="1.3"/><circle cx="149.66" cy="94.80" r="1.3"/><circle cx="156.04" cy="94.80" r="1.3"/><circle cx="162.42" cy="94.80" r="0.75"/><circle cx="76.29" cy="101.15" r="0.75"/><circle cx="95.43" cy="101.15" r="1.3"/><circle cx="101.81" cy="101.15" r="1.3"/><circle cx="108.19" cy="101.15" r="1.3"/><circle cx="114.57" cy="101.15" r="1.3"/><circle cx="120.95" cy="101.15" r="1.3"/><circle cx="127.33" cy="101.15" r="1.3"/><circle cx="133.71" cy="101.15" r="1.3"/><circle cx="140.09" cy="101.15" r="1.3"/><circle cx="146.47" cy="101.15" r="1.3"/><circle cx="152.85" cy="101.15" r="1.3"/><circle cx="92.24" cy="107.50" r="1.3"/><circle cx="98.62" cy="107.50" r="1.3"/><circle cx="105.00" cy="107.50" r="1.3"/><circle cx="111.38" cy="107.50" r="1.3"/><circle cx="117.76" cy="107.50" r="1.3"/><circle cx="124.14" cy="107.50" r="1.3"/><circle cx="130.52" cy="107.50" r="1.3"/><circle cx="136.90" cy="107.50" r="1.3"/><circle cx="143.28" cy="107.50" r="1.3"/><circle cx="149.66" cy="107.50" r="1.3"/><circle cx="168.80" cy="107.50" r="0.75"/><circle cx="175.18" cy="107.50" r="0.75"/><circle cx="219.84" cy="107.50" r="0.75"/><circle cx="226.22" cy="107.50" r="1.3"/><circle cx="89.05" cy="113.85" r="0.75"/><circle cx="95.43" cy="113.85" r="1.3"/><circle cx="101.81" cy="113.85" r="1.3"/><circle cx="108.19" cy="113.85" r="1.3"/><circle cx="114.57" cy="113.85" r="1.3"/><circle cx="120.95" cy="113.85" r="1.3"/><circle cx="127.33" cy="113.85" r="1.3"/><circle cx="133.71" cy="113.85" r="1.3"/><circle cx="140.09" cy="113.85" r="1.3"/><circle cx="146.47" cy="113.85" r="1.3"/><circle cx="165.61" cy="113.85" r="0.75"/><circle cx="171.99" cy="113.85" r="1.3"/><circle cx="178.37" cy="113.85" r="1.3"/><circle cx="216.65" cy="113.85" r="0.75"/><circle cx="223.03" cy="113.85" r="1.3"/><circle cx="229.41" cy="113.85" r="0.75"/><circle cx="92.24" cy="120.20" r="0.75"/><circle cx="98.62" cy="120.20" r="1.3"/><circle cx="105.00" cy="120.20" r="1.3"/><circle cx="111.38" cy="120.20" r="1.3"/><circle cx="117.76" cy="120.20" r="1.3"/><circle cx="124.14" cy="120.20" r="1.3"/><circle cx="130.52" cy="120.20" r="1.3"/><circle cx="136.90" cy="120.20" r="1.3"/><circle cx="143.28" cy="120.20" r="1.3"/><circle cx="149.66" cy="120.20" r="1.3"/><circle cx="168.80" cy="120.20" r="1.3"/><circle cx="175.18" cy="120.20" r="1.3"/><circle cx="181.56" cy="120.20" r="1.3"/><circle cx="213.46" cy="120.20" r="0.75"/><circle cx="219.84" cy="120.20" r="1.3"/><circle cx="226.22" cy="120.20" r="1.3"/><circle cx="95.43" cy="126.55" r="1.3"/><circle cx="101.81" cy="126.55" r="1.3"/><circle cx="108.19" cy="126.55" r="1.3"/><circle cx="114.57" cy="126.55" r="1.3"/><circle cx="120.95" cy="126.55" r="1.3"/><circle cx="127.33" cy="126.55" r="1.3"/><circle cx="133.71" cy="126.55" r="1.3"/><circle cx="140.09" cy="126.55" r="1.3"/><circle cx="146.47" cy="126.55" r="1.3"/><circle cx="152.85" cy="126.55" r="1.3"/><circle cx="171.99" cy="126.55" r="0.75"/><circle cx="178.37" cy="126.55" r="0.75"/><circle cx="210.27" cy="126.55" r="0.75"/><circle cx="98.62" cy="132.90" r="0.75"/><circle cx="105.00" cy="132.90" r="1.3"/><circle cx="111.38" cy="132.90" r="1.3"/><circle cx="117.76" cy="132.90" r="1.3"/><circle cx="124.14" cy="132.90" r="1.3"/><circle cx="130.52" cy="132.90" r="1.3"/><circle cx="136.90" cy="132.90" r="1.3"/><circle cx="143.28" cy="132.90" r="1.3"/><circle cx="149.66" cy="132.90" r="1.3"/><circle cx="156.04" cy="132.90" r="1.3"/><circle cx="162.42" cy="132.90" r="0.75"/><circle cx="213.46" cy="132.90" r="0.75"/><circle cx="219.84" cy="132.90" r="0.75"/><circle cx="108.19" cy="139.25" r="1.3"/><circle cx="114.57" cy="139.25" r="1.3"/><circle cx="120.95" cy="139.25" r="1.3"/><circle cx="127.33" cy="139.25" r="1.3"/><circle cx="133.71" cy="139.25" r="1.3"/><circle cx="140.09" cy="139.25" r="1.3"/><circle cx="146.47" cy="139.25" r="1.3"/><circle cx="152.85" cy="139.25" r="1.3"/><circle cx="159.23" cy="139.25" r="1.3"/><circle cx="165.61" cy="139.25" r="1.3"/><circle cx="210.27" cy="139.25" r="1.3"/><circle cx="216.65" cy="139.25" r="1.3"/><circle cx="111.38" cy="145.60" r="1.3"/><circle cx="117.76" cy="145.60" r="1.3"/><circle cx="124.14" cy="145.60" r="1.3"/><circle cx="130.52" cy="145.60" r="1.3"/><circle cx="136.90" cy="145.60" r="1.3"/><circle cx="143.28" cy="145.60" r="1.3"/><circle cx="149.66" cy="145.60" r="1.3"/><circle cx="156.04" cy="145.60" r="1.3"/><circle cx="162.42" cy="145.60" r="1.3"/><circle cx="168.80" cy="145.60" r="1.3"/><circle cx="200.70" cy="145.60" r="0.75"/><circle cx="207.08" cy="145.60" r="1.3"/><circle cx="108.19" cy="151.95" r="0.75"/><circle cx="114.57" cy="151.95" r="1.3"/><circle cx="120.95" cy="151.95" r="1.3"/><circle cx="127.33" cy="151.95" r="1.3"/><circle cx="133.71" cy="151.95" r="1.3"/><circle cx="140.09" cy="151.95" r="1.3"/><circle cx="146.47" cy="151.95" r="1.3"/><circle cx="152.85" cy="151.95" r="1.3"/><circle cx="159.23" cy="151.95" r="1.3"/><circle cx="165.61" cy="151.95" r="1.3"/><circle cx="171.99" cy="151.95" r="1.3"/><circle cx="178.37" cy="151.95" r="1.3"/><circle cx="191.13" cy="151.95" r="1.3"/><circle cx="197.51" cy="151.95" r="1.3"/><circle cx="203.89" cy="151.95" r="1.3"/><circle cx="117.76" cy="158.30" r="1.3"/><circle cx="124.14" cy="158.30" r="1.3"/><circle cx="130.52" cy="158.30" r="1.3"/><circle cx="136.90" cy="158.30" r="1.3"/><circle cx="143.28" cy="158.30" r="1.3"/><circle cx="149.66" cy="158.30" r="1.3"/><circle cx="156.04" cy="158.30" r="1.3"/><circle cx="162.42" cy="158.30" r="1.3"/><circle cx="168.80" cy="158.30" r="1.3"/><circle cx="175.18" cy="158.30" r="1.3"/><circle cx="181.56" cy="158.30" r="1.3"/><circle cx="194.32" cy="158.30" r="0.75"/><circle cx="114.57" cy="164.65" r="0.75"/><circle cx="120.95" cy="164.65" r="1.3"/><circle cx="127.33" cy="164.65" r="1.3"/><circle cx="133.71" cy="164.65" r="1.3"/><circle cx="140.09" cy="164.65" r="1.3"/><circle cx="146.47" cy="164.65" r="1.3"/><circle cx="152.85" cy="164.65" r="1.3"/><circle cx="159.23" cy="164.65" r="1.3"/><circle cx="165.61" cy="164.65" r="1.3"/><circle cx="171.99" cy="164.65" r="1.3"/><circle cx="178.37" cy="164.65" r="1.3"/><circle cx="117.76" cy="171.00" r="1.3"/><circle cx="124.14" cy="171.00" r="1.3"/><circle cx="130.52" cy="171.00" r="1.3"/><circle cx="136.90" cy="171.00" r="1.3"/><circle cx="143.28" cy="171.00" r="1.3"/><circle cx="149.66" cy="171.00" r="1.3"/><circle cx="156.04" cy="171.00" r="1.3"/><circle cx="162.42" cy="171.00" r="1.3"/><circle cx="168.80" cy="171.00" r="1.3"/><circle cx="175.18" cy="171.00" r="0.75"/><circle cx="120.95" cy="177.35" r="1.3"/><circle cx="127.33" cy="177.35" r="1.3"/><circle cx="133.71" cy="177.35" r="1.3"/><circle cx="140.09" cy="177.35" r="1.3"/><circle cx="146.47" cy="177.35" r="1.3"/><circle cx="152.85" cy="177.35" r="1.3"/><circle cx="159.23" cy="177.35" r="1.3"/><circle cx="117.76" cy="183.70" r="0.75"/><circle cx="124.14" cy="183.70" r="1.3"/><circle cx="130.52" cy="183.70" r="1.3"/><circle cx="136.90" cy="183.70" r="1.3"/><circle cx="143.28" cy="183.70" r="0.75"/></g></g>
<path d="M54.5,59.4 L58.7,60.2 L62.6,61.0 L65.6,57.9 L67.4,55.6 L70.4,54.7 L73.3,53.9 L74.6,51.8 L76.4,49.9 L73.0,45.7 L69.5,41.5 L70.3,40.4 L83.7,37.0 L86.0,35.4 L89.8,36.2 L94.7,37.3 L100.5,41.2 L102.3,42.4 L105.8,44.2 L106.9,44.7 L112.2,49.6 L119.1,55.4 L126.3,60.3 L139.7,61.1 L140.6,61.6 L142.9,58.7 L145.2,53.7 L148.2,53.2 L152.1,54.5 L154.4,56.0 L152.8,57.5 L150.5,58.7 L151.7,60.6 L153.6,63.3 L154.5,65.4 L156.1,68.5 L156.8,70.4 L158.0,72.7 L159.1,73.8 L161.4,75.7 L164.1,78.8 L165.3,80.7 L167.2,83.0 L166.9,85.6 L166.6,87.2 L168.0,89.6 L169.7,92.1 L170.9,95.0 L172.0,97.3 L172.4,95.0 L172.5,92.1 L172.8,89.0 L173.8,86.8 L175.5,85.9 L177.2,86.6 L178.2,88.5 L178.4,91.2 L177.9,94.6 L178.1,97.5 L177.8,99.6 L178.9,102.2 L181.0,103.4 L182.0,103.7 L185.7,102.3 L190.2,103.2 L193.9,102.8 L197.6,101.9 L199.9,100.5 L201.7,98.7 L204.9,95.4 L207.6,92.7 L209.9,90.9 L211.3,89.0 L211.8,86.7 L213.6,84.9 L214.5,86.3 L214.1,88.6 L213.6,91.3 L214.1,95.9 L214.5,98.0 L215.6,99.9 L217.9,102.2 L220.2,104.5 L223.2,105.6 L227.1,106.8 L230.9,107.5 L233.2,109.5 L236.2,112.9 L238.5,115.2 L240.8,117.1 L239.3,118.3 L237.7,122.1 L234.7,125.2 L232.8,127.5 L231.6,130.1 L228.6,131.3 L226.3,132.4 L225.2,134.3 L224.4,138.6 L224.9,143.2 L223.0,144.5 L218.5,145.4 L216.6,147.3 L215.7,150.5 L213.9,151.9 L211.1,152.3 L207.5,153.2 L206.1,155.1 L204.9,157.3 L202.2,159.6 L198.5,159.6 L194.0,160.5 L190.3,161.9 L185.7,163.7 L183.0,166.5 L183.4,168.8 L182.8,170.2 L179.8,171.7 L176.0,173.3 L171.4,174.4 L168.3,175.5 L165.3,176.7 L161.5,177.8 L159.2,179.7 L157.3,182.0 L153.8,182.4 L151.6,182.1 L149.3,183.3 L146.2,184.8 L141.6,185.9 L137.1,187.1 L133.6,187.8 L131.0,189.4 L128.7,190.9 L125.6,191.3 L123.3,192.0 L120.3,192.4 L117.6,191.6 L116.5,189.0 L116.1,185.9 L115.7,182.9 L114.5,179.1 L113.7,177.7 L112.6,173.9 L111.5,172.0 L111.8,170.1 L112.6,167.1 L113.2,164.2 L111.8,162.9 L110.3,160.2 L109.1,157.2 L108.0,154.5 L105.7,152.6 L103.4,150.3 L102.6,148.0 L101.4,146.4 L100.3,143.7 L99.1,140.7 L97.2,138.0 L94.9,135.7 L91.9,133.8 L88.8,132.3 L87.3,130.0 L85.7,127.4 L84.9,124.7 L84.5,120.9 L84.9,117.1 L84.2,114.0 L83.0,112.0 L81.5,109.0 L79.9,105.9 L77.3,103.6 L74.2,102.1 L72.3,100.2 L70.8,97.5 L71.2,96.0 L71.4,95.2 L69.8,92.9 L67.9,90.2 L67.2,88.7 L65.3,85.6 L63.4,82.6 L61.5,79.9 L60.3,78.0 L59.1,76.0 L58.0,73.6 L56.5,71.6 L54.2,70.5 L51.5,70.1 L52.3,69.0 L52.6,65.9 L53.4,61.7 Z" fill="none" stroke="#000" stroke-width="1.4" stroke-linejoin="round"/>
<path d="M140.6,61.7 L148.2,63.3 L149.3,66.3 L154.3,66.4" fill="none" stroke="#000" stroke-width="1.4" stroke-linejoin="round"/>
<path d="M179.3,104.0 L186.0,112.0 L205.0,115.2" fill="none" stroke="#000" stroke-width="1.4" stroke-linejoin="round"/>
<path d="M212.3,90.8 L213.0,93.0 L212.9,95.2 L210.5,96.4 L209.4,100.5 L210.6,102.6 L208.6,104.3 L207.5,107.5 L206.8,111.0 L205.9,113.8 L205.0,115.4" fill="none" stroke="#000" stroke-width="1.4" stroke-linejoin="round"/>
<path d="M205.0,115.4 L206.5,116.2 L208.7,119.8 L207.2,124.4 L205.7,129.7 L204.3,134.0 L203.4,135.8 L190.0,140.8 L182.0,144.1" fill="none" stroke="#000" stroke-width="1.4" stroke-linejoin="round"/>
<path d="M182.0,144.1 L184.6,149.6 L186.6,156.4 L189.4,161.9" fill="none" stroke="#000" stroke-width="1.4" stroke-linejoin="round"/>
<path d="M182.0,144.1 L177.6,144.8 L170.3,146.2 L163.0,147.0 L157.2,148.4 L152.8,151.4 L149.9,155.0 L146.9,158.7 L145.0,160.2 L143.1,158.7 L141.6,157.5 L138.5,157.9 L134.7,157.5 L132.4,156.8 L129.4,156.0 L124.0,156.4 L121.3,157.2 L119.4,156.0 L117.5,155.3 L116.0,156.4 L115.6,158.7 L114.8,162.1 L113.2,164.2" fill="none" stroke="#000" stroke-width="1.4" stroke-linejoin="round"/>
<path d="M172.6,98.2 L177.8,99.4" fill="none" stroke="#000" stroke-width="1.4" stroke-linejoin="round"/>
<path d="M169.9,85.0 L171.3,85.3 L171.8,88.0 L171.5,91.5 L170.6,92.0 L170.0,89.0 Z" fill="#000"/>
<path d="M211.6,86.8 L213.4,84.5 L214.9,86.2 L214.4,88.8 L213.4,90.6 L212.0,89.6 Z" fill="#000"/>
<path d="M150.9,54.8 L153.0,55.1 L154.2,56.2 L153.2,57.5 L151.6,58.1 L150.9,57.0 Z" fill="#fff" stroke="#000" stroke-width="1.7"/>
<ellipse cx="106.5" cy="161" rx="2.2" ry="1.3" transform="rotate(45 106.5 161)" fill="#000"/>
<circle cx="112.3" cy="182.9" r="0.9" fill="#000"/>
<circle cx="182.9" cy="195.9" r="1.15" fill="#000"/>
<ellipse cx="231.6" cy="132.3" rx="1.0" ry="1.9" transform="rotate(25 231.6 132.3)" fill="#fff" stroke="#000" stroke-width="1.1"/>
<path d="M191.7,193.5 L192.3,192.4 L193.6,192.1 L195.0,192.9 L196.3,192.9 L197.6,192.2 L199.0,192.6 L199.8,193.6 L199.2,194.7 L197.5,195.1 L195.5,195.2 L193.1,195.1 L192.0,194.6 Z" fill="#def0ed" stroke="#000" stroke-width="1.25" stroke-linejoin="round"/>
<circle cx="199.6" cy="193.9" r="0.9" fill="#000"/>
</g>
<rect x="47.20" y="24.20" width="194.00" height="173.60" fill="none" stroke="#000" stroke-width="1.5"/>
<line x1="41.20" y1="28.24" x2="47.20" y2="28.24" stroke="#000" stroke-width="1.3"/>
<line x1="41.20" y1="54.30" x2="47.20" y2="54.30" stroke="#000" stroke-width="1.3"/>
<line x1="41.20" y1="79.59" x2="47.20" y2="79.59" stroke="#000" stroke-width="1.3"/>
<line x1="41.20" y1="104.20" x2="47.20" y2="104.20" stroke="#000" stroke-width="1.3"/>
<line x1="41.20" y1="128.25" x2="47.20" y2="128.25" stroke="#000" stroke-width="1.3"/>
<line x1="41.20" y1="151.83" x2="47.20" y2="151.83" stroke="#000" stroke-width="1.3"/>
<line x1="41.20" y1="175.00" x2="47.20" y2="175.00" stroke="#000" stroke-width="1.3"/>
<line x1="41.20" y1="197.85" x2="47.20" y2="197.85" stroke="#000" stroke-width="1.3"/>
<line x1="62.12" y1="197.80" x2="62.12" y2="203.80" stroke="#000" stroke-width="1.3"/>
<text x="62.12" y="219.7" text-anchor="middle" font-size="14" textLength="32" lengthAdjust="spacingAndGlyphs">36°E</text>
<line x1="106.89" y1="197.80" x2="106.89" y2="203.80" stroke="#000" stroke-width="1.3"/>
<text x="106.89" y="219.7" text-anchor="middle" font-size="14" textLength="32" lengthAdjust="spacingAndGlyphs">42°E</text>
<line x1="151.66" y1="197.80" x2="151.66" y2="203.80" stroke="#000" stroke-width="1.3"/>
<text x="151.66" y="219.7" text-anchor="middle" font-size="14" textLength="32" lengthAdjust="spacingAndGlyphs">48°E</text>
<line x1="196.43" y1="197.80" x2="196.43" y2="203.80" stroke="#000" stroke-width="1.3"/>
<text x="196.43" y="219.7" text-anchor="middle" font-size="14" textLength="32" lengthAdjust="spacingAndGlyphs">54°E</text>
<line x1="241.20" y1="197.80" x2="241.20" y2="203.80" stroke="#000" stroke-width="1.3"/>
<text x="241.20" y="219.7" text-anchor="middle" font-size="14" textLength="32" lengthAdjust="spacingAndGlyphs">60°E</text>
<text x="34.4" y="33.44" text-anchor="end" font-size="13.4" textLength="33.2" lengthAdjust="spacingAndGlyphs">33°N</text>
<text x="34.4" y="59.50" text-anchor="end" font-size="13.4" textLength="33.2" lengthAdjust="spacingAndGlyphs">30°N</text>
<text x="34.4" y="84.79" text-anchor="end" font-size="13.4" textLength="33.2" lengthAdjust="spacingAndGlyphs">27°N</text>
<text x="34.4" y="109.40" text-anchor="end" font-size="13.4" textLength="33.2" lengthAdjust="spacingAndGlyphs">24°N</text>
<text x="34.4" y="133.45" text-anchor="end" font-size="13.4" textLength="33.2" lengthAdjust="spacingAndGlyphs">21°N</text>
<text x="34.4" y="157.03" text-anchor="end" font-size="13.4" textLength="33.2" lengthAdjust="spacingAndGlyphs">18°N</text>
<text x="34.4" y="180.20" text-anchor="end" font-size="13.4" textLength="33.2" lengthAdjust="spacingAndGlyphs">15°N</text>
<text x="34.4" y="203.05" text-anchor="end" font-size="13.4" textLength="33.2" lengthAdjust="spacingAndGlyphs">12°N</text>
<rect x="260.60" y="24.20" width="194.00" height="173.60" fill="none" stroke="#000" stroke-width="1.5"/>
<line x1="254.60" y1="28.24" x2="260.60" y2="28.24" stroke="#000" stroke-width="1.3"/>
<line x1="254.60" y1="54.30" x2="260.60" y2="54.30" stroke="#000" stroke-width="1.3"/>
<line x1="254.60" y1="79.59" x2="260.60" y2="79.59" stroke="#000" stroke-width="1.3"/>
<line x1="254.60" y1="104.20" x2="260.60" y2="104.20" stroke="#000" stroke-width="1.3"/>
<line x1="254.60" y1="128.25" x2="260.60" y2="128.25" stroke="#000" stroke-width="1.3"/>
<line x1="254.60" y1="151.83" x2="260.60" y2="151.83" stroke="#000" stroke-width="1.3"/>
<line x1="254.60" y1="175.00" x2="260.60" y2="175.00" stroke="#000" stroke-width="1.3"/>
<line x1="254.60" y1="197.85" x2="260.60" y2="197.85" stroke="#000" stroke-width="1.3"/>
<line x1="275.52" y1="197.80" x2="275.52" y2="203.80" stroke="#000" stroke-width="1.3"/>
<text x="275.52" y="219.7" text-anchor="middle" font-size="14" textLength="32" lengthAdjust="spacingAndGlyphs">36°E</text>
<line x1="320.29" y1="197.80" x2="320.29" y2="203.80" stroke="#000" stroke-width="1.3"/>
<text x="320.29" y="219.7" text-anchor="middle" font-size="14" textLength="32" lengthAdjust="spacingAndGlyphs">42°E</text>
<line x1="365.06" y1="197.80" x2="365.06" y2="203.80" stroke="#000" stroke-width="1.3"/>
<text x="365.06" y="219.7" text-anchor="middle" font-size="14" textLength="32" lengthAdjust="spacingAndGlyphs">48°E</text>
<line x1="409.83" y1="197.80" x2="409.83" y2="203.80" stroke="#000" stroke-width="1.3"/>
<text x="409.83" y="219.7" text-anchor="middle" font-size="14" textLength="32" lengthAdjust="spacingAndGlyphs">54°E</text>
<line x1="454.60" y1="197.80" x2="454.60" y2="203.80" stroke="#000" stroke-width="1.3"/>
<text x="454.60" y="219.7" text-anchor="middle" font-size="14" textLength="32" lengthAdjust="spacingAndGlyphs">60°E</text>
<rect x="474.00" y="24.20" width="194.00" height="173.60" fill="none" stroke="#000" stroke-width="1.5"/>
<line x1="468.00" y1="28.24" x2="474.00" y2="28.24" stroke="#000" stroke-width="1.3"/>
<line x1="468.00" y1="54.30" x2="474.00" y2="54.30" stroke="#000" stroke-width="1.3"/>
<line x1="468.00" y1="79.59" x2="474.00" y2="79.59" stroke="#000" stroke-width="1.3"/>
<line x1="468.00" y1="104.20" x2="474.00" y2="104.20" stroke="#000" stroke-width="1.3"/>
<line x1="468.00" y1="128.25" x2="474.00" y2="128.25" stroke="#000" stroke-width="1.3"/>
<line x1="468.00" y1="151.83" x2="474.00" y2="151.83" stroke="#000" stroke-width="1.3"/>
<line x1="468.00" y1="175.00" x2="474.00" y2="175.00" stroke="#000" stroke-width="1.3"/>
<line x1="468.00" y1="197.85" x2="474.00" y2="197.85" stroke="#000" stroke-width="1.3"/>
<line x1="488.92" y1="197.80" x2="488.92" y2="203.80" stroke="#000" stroke-width="1.3"/>
<text x="488.92" y="219.7" text-anchor="middle" font-size="14" textLength="32" lengthAdjust="spacingAndGlyphs">36°E</text>
<line x1="533.69" y1="197.80" x2="533.69" y2="203.80" stroke="#000" stroke-width="1.3"/>
<text x="533.69" y="219.7" text-anchor="middle" font-size="14" textLength="32" lengthAdjust="spacingAndGlyphs">42°E</text>
<line x1="578.46" y1="197.80" x2="578.46" y2="203.80" stroke="#000" stroke-width="1.3"/>
<text x="578.46" y="219.7" text-anchor="middle" font-size="14" textLength="32" lengthAdjust="spacingAndGlyphs">48°E</text>
<line x1="623.23" y1="197.80" x2="623.23" y2="203.80" stroke="#000" stroke-width="1.3"/>
<text x="623.23" y="219.7" text-anchor="middle" font-size="14" textLength="32" lengthAdjust="spacingAndGlyphs">54°E</text>
<line x1="668.00" y1="197.80" x2="668.00" y2="203.80" stroke="#000" stroke-width="1.3"/>
<text x="668.00" y="219.7" text-anchor="middle" font-size="14" textLength="32" lengthAdjust="spacingAndGlyphs">60°E</text>
<text x="47.0" y="15.0" font-size="18.4" textLength="22" lengthAdjust="spacingAndGlyphs" stroke="#000" stroke-width="0.25">(a)</text>
<text x="263.2" y="15.0" font-size="18.4" textLength="24" lengthAdjust="spacingAndGlyphs" stroke="#000" stroke-width="0.25">(b)</text>
<text x="473.6" y="15.0" font-size="18.4" textLength="22" lengthAdjust="spacingAndGlyphs" stroke="#000" stroke-width="0.25">(c)</text>
<rect x="137.80" y="234.1" width="15.94" height="10.50" fill="#f1f9ea"/><rect x="153.44" y="234.1" width="15.94" height="10.50" fill="#e4f4de"/><rect x="169.08" y="234.1" width="15.94" height="10.50" fill="#d8f0d2"/><rect x="184.72" y="234.1" width="15.94" height="10.50" fill="#ccebc5"/><rect x="200.36" y="234.1" width="15.94" height="10.50" fill="#b7e3bc"/><rect x="216.00" y="234.1" width="15.94" height="10.50" fill="#a2dbb7"/><rect x="231.64" y="234.1" width="15.94" height="10.50" fill="#88d1c0"/><rect x="247.28" y="234.1" width="15.94" height="10.50" fill="#6ec5c8"/><rect x="262.91" y="234.1" width="15.94" height="10.50" fill="#54b6d1"/><rect x="278.55" y="234.1" width="15.94" height="10.50" fill="#3fa2ca"/><rect x="294.19" y="234.1" width="15.94" height="10.50" fill="#2a8bbe"/><rect x="309.83" y="234.1" width="15.94" height="10.50" fill="#1677b3"/><rect x="325.47" y="234.1" width="15.94" height="10.50" fill="#0862a5"/><rect x="341.11" y="234.1" width="15.94" height="10.50" fill="#084b8d"/><polygon points="137.80,234.1 126.80,239.35 137.80,244.6" fill="#f7fcf0"/><polygon points="356.75,234.1 367.75,239.35 356.75,244.6" fill="#084081"/><polygon points="137.80,234.1 356.75,234.1 367.75,239.35 356.75,244.6 137.80,244.6 126.80,239.35" fill="none" stroke="#000" stroke-width="1.2"/><line x1="137.80" y1="244.6" x2="137.80" y2="248.60" stroke="#000" stroke-width="1.4"/><text x="137.80" y="260.0" text-anchor="middle" font-size="14" textLength="20.0" lengthAdjust="spacingAndGlyphs">10</text><line x1="169.08" y1="244.6" x2="169.08" y2="248.60" stroke="#000" stroke-width="1.4"/><text x="169.08" y="260.0" text-anchor="middle" font-size="14" textLength="20.0" lengthAdjust="spacingAndGlyphs">30</text><line x1="200.36" y1="244.6" x2="200.36" y2="248.60" stroke="#000" stroke-width="1.4"/><text x="200.36" y="260.0" text-anchor="middle" font-size="14" textLength="20.0" lengthAdjust="spacingAndGlyphs">50</text><line x1="231.64" y1="244.6" x2="231.64" y2="248.60" stroke="#000" stroke-width="1.4"/><text x="231.64" y="260.0" text-anchor="middle" font-size="14" textLength="20.0" lengthAdjust="spacingAndGlyphs">70</text><line x1="262.91" y1="244.6" x2="262.91" y2="248.60" stroke="#000" stroke-width="1.4"/><text x="262.91" y="260.0" text-anchor="middle" font-size="14" textLength="20.0" lengthAdjust="spacingAndGlyphs">90</text><line x1="294.19" y1="244.6" x2="294.19" y2="248.60" stroke="#000" stroke-width="1.4"/><text x="294.19" y="260.0" text-anchor="middle" font-size="14" textLength="28.9" lengthAdjust="spacingAndGlyphs">110</text><line x1="325.47" y1="244.6" x2="325.47" y2="248.60" stroke="#000" stroke-width="1.4"/><text x="325.47" y="260.0" text-anchor="middle" font-size="14" textLength="28.9" lengthAdjust="spacingAndGlyphs">130</text><line x1="356.75" y1="244.6" x2="356.75" y2="248.60" stroke="#000" stroke-width="1.4"/><text x="356.75" y="260.0" text-anchor="middle" font-size="14" textLength="28.9" lengthAdjust="spacingAndGlyphs">150</text>
<rect x="477.00" y="234.1" width="18.45" height="10.50" fill="#6e4007"/><rect x="495.14" y="234.1" width="18.45" height="10.50" fill="#a5691b"/><rect x="513.29" y="234.1" width="18.45" height="10.50" fill="#cfa256"/><rect x="531.44" y="234.1" width="18.45" height="10.50" fill="#ead59f"/><rect x="549.58" y="234.1" width="18.45" height="10.50" fill="#f5efdc"/><rect x="567.73" y="234.1" width="18.45" height="10.50" fill="#def0ed"/><rect x="585.87" y="234.1" width="18.45" height="10.50" fill="#a3dbd3"/><rect x="604.01" y="234.1" width="18.45" height="10.50" fill="#58b0a7"/><rect x="622.16" y="234.1" width="18.45" height="10.50" fill="#1a7e76"/><rect x="640.31" y="234.1" width="18.45" height="10.50" fill="#005046"/><polygon points="477.00,234.1 467.20,239.35 477.00,244.6" fill="#543005"/><polygon points="658.45,234.1 668.25,239.35 658.45,244.6" fill="#003c30"/><polygon points="477.00,234.1 658.45,234.1 668.25,239.35 658.45,244.6 477.00,244.6 467.20,239.35" fill="none" stroke="#000" stroke-width="1.2"/><line x1="495.10" y1="244.6" x2="495.10" y2="248.60" stroke="#000" stroke-width="1.4"/><text x="495.10" y="260.0" text-anchor="middle" font-size="14" textLength="31.0" lengthAdjust="spacingAndGlyphs">−12</text><line x1="531.40" y1="244.6" x2="531.40" y2="248.60" stroke="#000" stroke-width="1.4"/><text x="531.40" y="260.0" text-anchor="middle" font-size="14" textLength="21.4" lengthAdjust="spacingAndGlyphs">−6</text><line x1="567.70" y1="244.6" x2="567.70" y2="248.60" stroke="#000" stroke-width="1.4"/><text x="567.70" y="260.0" text-anchor="middle" font-size="14" textLength="9.4" lengthAdjust="spacingAndGlyphs">0</text><line x1="604.00" y1="244.6" x2="604.00" y2="248.60" stroke="#000" stroke-width="1.4"/><text x="604.00" y="260.0" text-anchor="middle" font-size="14" textLength="9.2" lengthAdjust="spacingAndGlyphs">6</text><line x1="640.30" y1="244.6" x2="640.30" y2="248.60" stroke="#000" stroke-width="1.4"/><text x="640.30" y="260.0" text-anchor="middle" font-size="14" textLength="20.0" lengthAdjust="spacingAndGlyphs">12</text>
</svg></body></html>
